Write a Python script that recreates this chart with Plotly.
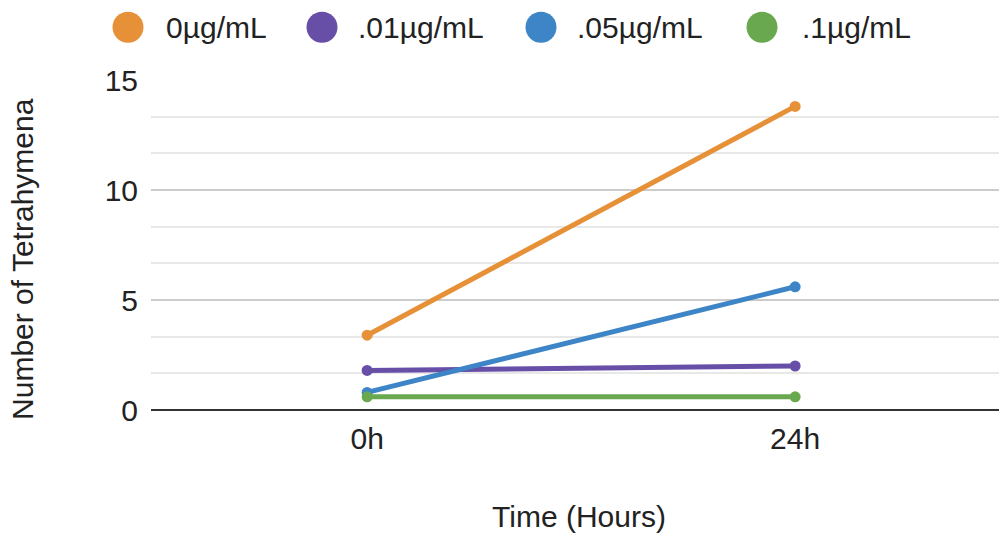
import plotly.graph_objects as go

categories = ["0h", "24h"]
series_names = ["0µg/mL", ".01µg/mL", ".05µg/mL", ".1µg/mL"]
s0 = [3.4, 13.8]
s01 = [1.8, 2.0]
s05 = [0.8, 5.6]
s1 = [0.6, 0.6]
colors = ["#E69138", "#674EA7", "#3D85C6", "#6AA84F"]
y_ticks = [0, 5, 10, 15]

FONT = "Liberation Sans, Arial, sans-serif"
W, H = 999, 525
ML, MR, MT, MB = 143, 0, 72, 121
PW, PH = W - ML - MR, H - MT - MB


def px_to_paper_x(px):
    return (px - ML) / PW


def px_to_paper_y(py):
    return 1 - (py - MT) / PH


fig = go.Figure()
for name, vals, col in zip(series_names, [s0, s01, s05, s1], colors):
    fig.add_trace(go.Scatter(x=categories, y=vals, mode="lines+markers", name=name,
                             line=dict(color=col, width=5),
                             marker=dict(color=col, size=11),
                             showlegend=False, cliponaxis=False))

# custom legend (large round swatches like the original)
legend_circle_px = [120, 314, 533, 754]
legend_text_px = [156, 348, 567, 792]
legend_y_px = 19
shapes = []
annotations = []
ly = px_to_paper_y(legend_y_px)
for name, col, cx, tx in zip(series_names, colors, legend_circle_px, legend_text_px):
    shapes.append(dict(type="circle", xref="paper", yref="paper",
                       xsizemode="pixel", ysizemode="pixel",
                       xanchor=px_to_paper_x(cx), yanchor=ly,
                       x0=-15.5, x1=15.5, y0=-15.5, y1=15.5,
                       fillcolor=col, line=dict(width=0)))
    annotations.append(dict(text=name, xref="paper", yref="paper",
                            x=px_to_paper_x(tx), y=ly, xanchor="left", yanchor="middle",
                            showarrow=False, font=dict(size=30, color="#222222")))
annotations.append(dict(text="Number of Tetrahymena", xref="paper", yref="paper",
                        x=px_to_paper_x(15), y=px_to_paper_y(252), textangle=-90,
                        xanchor="center", yanchor="middle", showarrow=False,
                        font=dict(size=30, color="#222222")))

fig.update_layout(
    width=W, height=H,
    margin=dict(l=ML, r=MR, t=MT, b=MB),
    plot_bgcolor="white", paper_bgcolor="white",
    font=dict(family=FONT, size=30, color="#222222"),
    showlegend=False,
    shapes=shapes, annotations=annotations,
    xaxis=dict(type="category", range=[-0.505, 1.495], showgrid=False, zeroline=False,
               showline=False, ticks="", ticklabelstandoff=8,
               title=dict(text="Time (Hours)", standoff=57, font=dict(size=30))),
    yaxis=dict(range=[0, 15], tickvals=y_ticks, showgrid=True, gridcolor="#cccccc",
               gridwidth=1.5, zeroline=True, zerolinecolor="#333333", zerolinewidth=2,
               showline=False, ticks="", ticklabelstandoff=12,
               minor=dict(dtick=5/3, tick0=0, showgrid=True, gridcolor="#e8e8e8", gridwidth=1.5)),
)
fig.write_html("out.html")
